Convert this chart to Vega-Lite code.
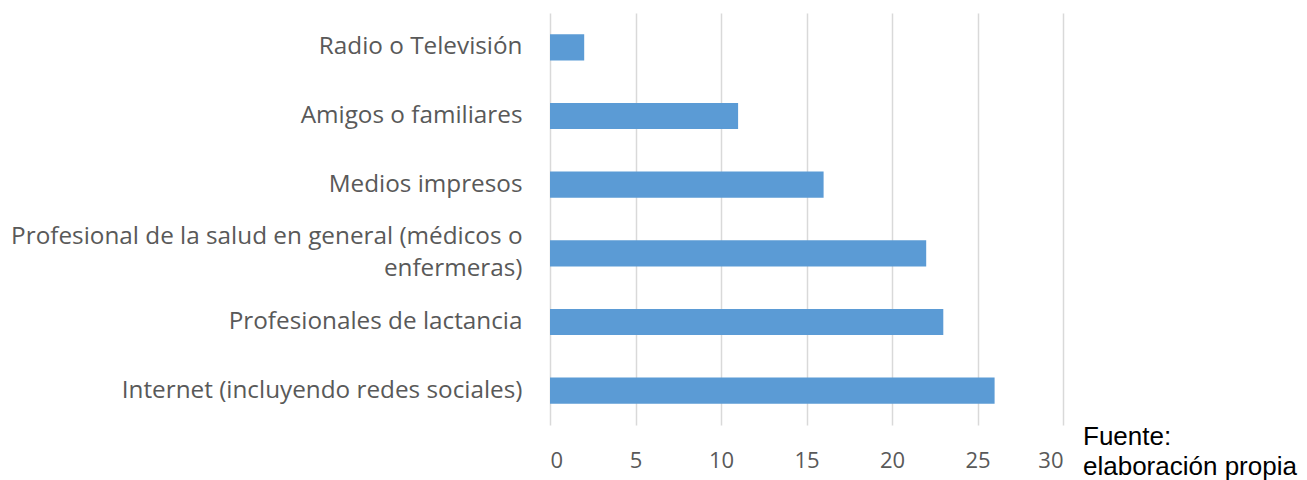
{
  "$schema": "https://vega.github.io/schema/vega-lite/v6.json",
  "autosize": "none",
  "width": 513,
  "height": 412,
  "padding": {"left": 550, "top": 13, "right": 244, "bottom": 55},
  "background": "white",
  "config": {"view": {"stroke": null}},
  "title": {
    "text": ["Fuente:", "elaboración propia"],
    "orient": "bottom",
    "anchor": "end",
    "align": "left",
    "frame": "group",
    "dx": 20,
    "offset": -47,
    "font": "Liberation Sans",
    "fontSize": 26,
    "fontWeight": "normal",
    "color": "#000000",
    "lineHeight": 30
  },
  "data": {
    "values": [
      {"fuente": "Radio o Televisión", "n": 2},
      {"fuente": "Amigos o familiares", "n": 11},
      {"fuente": "Medios impresos", "n": 16},
      {"fuente": "Profesional de la salud en general (médicos o enfermeras)", "n": 22},
      {"fuente": "Profesionales de lactancia", "n": 23},
      {"fuente": "Internet (incluyendo redes sociales)", "n": 26}
    ]
  },
  "mark": {"type": "bar", "color": "#5B9BD5"},
  "encoding": {
    "y": {
      "field": "fuente",
      "type": "nominal",
      "sort": null,
      "scale": {"paddingInner": 0.62, "paddingOuter": 0.31},
      "axis": {
        "title": null,
        "domain": false,
        "ticks": false,
        "labelPadding": 28,
        "labelFont": "Open Sans",
        "labelFontSize": 24.3,
        "labelColor": "#595959",
        "labelLimit": 600,
        "labelLineHeight": 32,
        "labelOffset": {"condition": {"test": "indexof(datum.value, 'enfermeras') >= 0", "value": -16}, "value": 0},
        "labelExpr": "indexof(datum.value, 'enfermeras') >= 0 ? ['Profesional de la salud en general (médicos o', 'enfermeras)'] : datum.value"
      }
    },
    "x": {
      "field": "n",
      "type": "quantitative",
      "scale": {"domain": [0, 30], "nice": false},
      "axis": {
        "title": null,
        "values": [0, 5, 10, 15, 20, 25, 30],
        "domain": false,
        "ticks": false,
        "grid": true,
        "gridColor": "#D9D9D9",
        "gridWidth": 1.5,
        "labelPadding": 25,
        "labelFont": "Open Sans",
        "labelFontSize": 22,
        "labelColor": "#595959"
      }
    }
  }
}
